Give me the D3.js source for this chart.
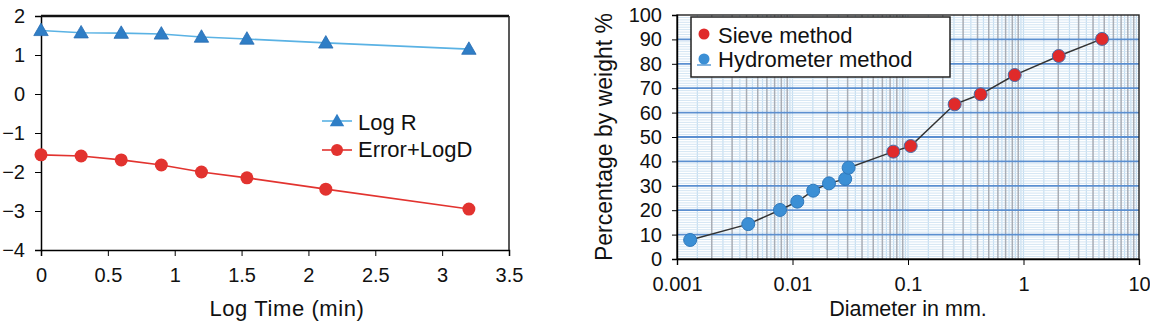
<!DOCTYPE html>
<html>
<head>
<meta charset="utf-8">
<script src="https://cdn.jsdelivr.net/npm/d3@7"></script>
<style>
  body { margin: 0; background: #fff; }
  text { font-family: Arial, "Liberation Sans", sans-serif; fill: #111; }
</style>
</head>
<body>
<div id="chart"></div>
<script>
// left panel data
const logTime = [0, 0.3, 0.6, 0.9, 1.2, 1.54, 2.13, 3.2];
const logR = [1.63, 1.57, 1.56, 1.54, 1.46, 1.41, 1.31, 1.15];
const errLogD = [-1.56, -1.59, -1.69, -1.82, -2.0, -2.15, -2.44, -2.95];
const leftXTicks = [0, 0.5, 1, 1.5, 2, 2.5, 3, 3.5];
const leftYTicks = [-4, -3, -2, -1, 0, 1, 2];

// right panel data
const sieveD = [0.0746, 0.1055, 0.2535, 0.4256, 0.839, 2.02, 4.79];
const sieveP = [44, 46.3, 63.4, 67.5, 75.4, 83.2, 90.2];
const hydroD = [0.0013, 0.00414, 0.0078, 0.011, 0.0151, 0.0207, 0.0286, 0.0306];
const hydroP = [7.8, 14.3, 20.1, 23.5, 28, 31, 32.8, 37.4];
const rightXTicks = [0.001, 0.01, 0.1, 1, 10];
const rightYTicks = [0, 10, 20, 30, 40, 50, 60, 70, 80, 90, 100];

const W = 1150, H = 325;
const svg = d3.select("#chart").append("svg").attr("width", W).attr("height", H);

const minus = s => String(s).replace("-", "\u2212");

// ---------- left chart ----------
const xL = d3.scaleLinear().domain([0, 3.5]).range([41, 509]);
const yL = d3.scaleLinear().domain([-4, 2]).range([250, 16]);
const gL = svg.append("g");

gL.append("g")
    .attr("transform", `translate(0,${yL(-4)})`)
    .call(d3.axisBottom(xL).tickValues(leftXTicks).tickSize(6).tickPadding(12).tickFormat(d => d))
    .call(g => g.selectAll("text").style("font-size", "20px"))
    .call(g => g.select(".domain").attr("stroke-width", 1.5));
gL.append("g")
    .attr("transform", `translate(${xL(0)},0)`)
    .call(d3.axisLeft(yL).tickValues(leftYTicks).tickSize(6).tickPadding(10).tickFormat(minus))
    .call(g => g.selectAll("text").style("font-size", "20px"))
    .call(g => g.select(".domain").attr("stroke-width", 1.5));
gL.append("line").attr("x1", xL(0)).attr("x2", xL(3.5)).attr("y1", yL(2)).attr("y2", yL(2))
    .attr("stroke", "#111").attr("stroke-width", 2.5);
gL.append("line").attr("x1", xL(3.5)).attr("x2", xL(3.5)).attr("y1", yL(2)).attr("y2", yL(-4))
    .attr("stroke", "#222").attr("stroke-width", 1.5);

const blueLine = "#5ab2e4", blueMark = "#2f7ec6", redCol = "#e2332f";
const tri = d3.symbol().type(d3.symbolTriangle).size(90);

gL.append("path")
    .datum(logTime.map((t, i) => [t, logR[i]]))
    .attr("fill", "none").attr("stroke", blueLine).attr("stroke-width", 1.6)
    .attr("d", d3.line().x(d => xL(d[0])).y(d => yL(d[1])));
gL.selectAll(".tri").data(logTime.map((t, i) => [t, logR[i]])).enter()
    .append("path").attr("class", "tri")
    .attr("d", tri)
    .attr("transform", d => `translate(${xL(d[0])},${yL(d[1]) + 1})`)
    .attr("fill", blueMark).attr("stroke", "#2a6db3").attr("stroke-width", 0.8);

gL.append("path")
    .datum(logTime.map((t, i) => [t, errLogD[i]]))
    .attr("fill", "none").attr("stroke", redCol).attr("stroke-width", 1.6)
    .attr("d", d3.line().x(d => xL(d[0])).y(d => yL(d[1])));
gL.selectAll(".dot").data(logTime.map((t, i) => [t, errLogD[i]])).enter()
    .append("circle").attr("class", "dot")
    .attr("cx", d => xL(d[0])).attr("cy", d => yL(d[1])).attr("r", 6.5)
    .attr("fill", redCol);

gL.append("text").attr("x", 287).attr("y", 316).attr("text-anchor", "middle")
    .style("font-size", "22px").style("letter-spacing", "0.6px").text("Log Time (min)");

// left legend
const legL = gL.append("g").attr("transform", "translate(322,121)");
legL.append("line").attr("x1", 0).attr("x2", 30).attr("stroke", blueLine).attr("stroke-width", 1.6);
legL.append("path").attr("d", tri).attr("transform", "translate(15,1)").attr("fill", blueMark);
legL.append("text").attr("x", 36).attr("y", 9).style("font-size", "22px").text("Log R");
legL.append("line").attr("x1", 0).attr("x2", 30).attr("y1", 29).attr("y2", 29).attr("stroke", redCol).attr("stroke-width", 1.6);
legL.append("circle").attr("cx", 15).attr("cy", 29).attr("r", 6).attr("fill", redCol);
legL.append("text").attr("x", 36).attr("y", 36).style("font-size", "22px").text("Error+LogD");

// ---------- right chart ----------
const xR = d3.scaleLog().domain([0.001, 10]).range([677, 1139]);
const yR = d3.scaleLinear().domain([0, 100]).range([259, 15]);
const gR = svg.append("g");

const decades = [0.001, 0.01, 0.1, 1];
const lightV = [], greyV = [];
decades.forEach(dec => {
    lightV.push(dec);
    for (let k = 1; k <= 9; k++) lightV.push((k + 0.5) * dec);
    for (let k = 2; k <= 9; k++) greyV.push(k * dec);
});
const minorH = d3.range(1, 100).filter(v => v % 10 !== 0);
const majorH = d3.range(10, 100, 10);

gR.selectAll(".lv").data(lightV.filter(v => v > 0.001 && v < 10)).enter().append("line")
    .attr("x1", d => xR(d)).attr("x2", d => xR(d)).attr("y1", yR(100)).attr("y2", yR(0))
    .attr("stroke", "#c4ddf0").attr("stroke-width", 1.2);
gR.selectAll(".mh").data(minorH).enter().append("line")
    .attr("x1", xR(0.001)).attr("x2", xR(10)).attr("y1", d => yR(d)).attr("y2", d => yR(d))
    .attr("stroke", "#d3e5f3").attr("stroke-width", 1);
gR.selectAll(".gv").data(greyV).enter().append("line")
    .attr("x1", d => xR(d)).attr("x2", d => xR(d)).attr("y1", yR(100)).attr("y2", yR(0))
    .attr("stroke", "#a9adb5").attr("stroke-width", 1.5);
gR.selectAll(".jh").data(majorH).enter().append("line")
    .attr("x1", xR(0.001)).attr("x2", xR(10)).attr("y1", d => yR(d)).attr("y2", d => yR(d))
    .attr("stroke", "#5b8fd0").attr("stroke-width", 1.8);

gR.append("rect").attr("x", xR(0.001)).attr("y", yR(100))
    .attr("width", xR(10) - xR(0.001)).attr("height", yR(0) - yR(100))
    .attr("fill", "none").attr("stroke", "#222").attr("stroke-width", 1.4);

gR.append("g")
    .attr("transform", `translate(0,${yR(0)})`)
    .call(d3.axisBottom(xR).tickValues(rightXTicks).tickSize(6).tickPadding(12).tickFormat(d => String(d)))
    .call(g => g.selectAll("text").style("font-size", "20px"))
    .call(g => g.select(".domain").attr("stroke-width", 1.4));
gR.append("g")
    .attr("transform", `translate(${xR(0.001)},0)`)
    .call(d3.axisLeft(yR).tickValues(rightYTicks).tickSize(5).tickPadding(10))
    .call(g => g.selectAll("text").style("font-size", "20px"))
    .call(g => g.select(".domain").attr("stroke-width", 1.4));

const allPts = hydroD.map((d, i) => [d, hydroP[i]]).concat(sieveD.map((d, i) => [d, sieveP[i]]))
    .sort((a, b) => a[0] - b[0]);
gR.append("path").datum(allPts)
    .attr("fill", "none").attr("stroke", "#333").attr("stroke-width", 1.5)
    .attr("d", d3.line().x(d => xR(d[0])).y(d => yR(d[1])));

const hydroFill = "#3b8fd5", sieveFill = "#e02a2a";
gR.selectAll(".hy").data(hydroD.map((d, i) => [d, hydroP[i]])).enter().append("circle")
    .attr("cx", d => xR(d[0])).attr("cy", d => yR(d[1])).attr("r", 6.5)
    .attr("fill", hydroFill).attr("stroke", "#2f78bb").attr("stroke-width", 1);
gR.selectAll(".sv").data(sieveD.map((d, i) => [d, sieveP[i]])).enter().append("circle")
    .attr("cx", d => xR(d[0])).attr("cy", d => yR(d[1])).attr("r", 6.5)
    .attr("fill", sieveFill).attr("stroke", "#4a6fa8").attr("stroke-width", 1);

// right legend
const legR = gR.append("g");
legR.append("rect").attr("x", 691).attr("y", 17).attr("width", 259).attr("height", 60)
    .attr("fill", "#fff").attr("stroke", "#222").attr("stroke-width", 1.5);
legR.append("circle").attr("cx", 704).attr("cy", 34).attr("r", 5.5).attr("fill", sieveFill);
legR.append("text").attr("x", 718).attr("y", 43).style("font-size", "22px").text("Sieve method");
legR.append("line").attr("x1", 697).attr("x2", 711).attr("y1", 65).attr("y2", 65)
    .attr("stroke", "#5b9bd5").attr("stroke-width", 1.5);
legR.append("circle").attr("cx", 704).attr("cy", 59).attr("r", 5.5).attr("fill", hydroFill);
legR.append("text").attr("x", 718).attr("y", 67).style("font-size", "22px").text("Hydrometer method");

gR.append("text").attr("transform", `translate(612,${(yR(0) + yR(100)) / 2}) rotate(-90)`)
    .attr("text-anchor", "middle").style("font-size", "23px").text("Percentage by weight %");
gR.append("text").attr("x", 908).attr("y", 316).attr("text-anchor", "middle")
    .style("font-size", "21.5px").text("Diameter in mm.");
</script>
</body>
</html>
